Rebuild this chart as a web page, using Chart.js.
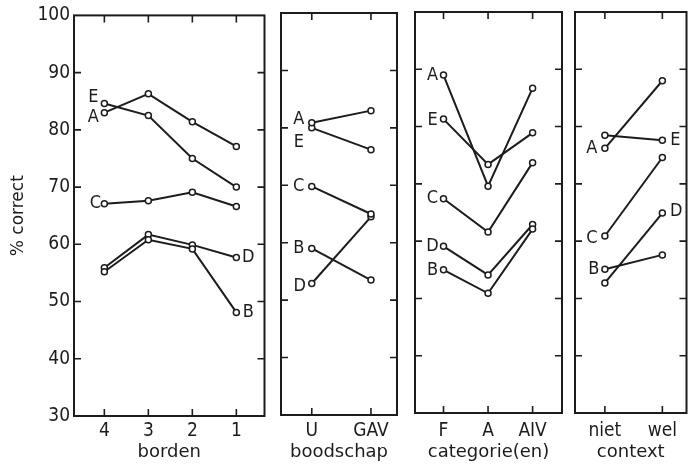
<!DOCTYPE html>
<html>
<head>
<meta charset="utf-8">
<script src="https://cdn.jsdelivr.net/npm/chart.js@4.4.1/dist/chart.umd.min.js"></script>
<style>
html, body { margin: 0; padding: 0; background: #fff; overflow: hidden; }
#wrap { position: relative; width: 692px; height: 464px; }
.panel { position: absolute; top: 0; height: 464px; }
</style>
</head>
<body>
<div id="wrap">
  <div class="panel"><canvas id="c1"></canvas></div>
  <div class="panel"><canvas id="c2"></canvas></div>
  <div class="panel"><canvas id="c3"></canvas></div>
  <div class="panel"><canvas id="c4"></canvas></div>
</div>
<script>
const seriesNames = ['A', 'B', 'C', 'D', 'E'];

// borden
const bordenTicks = ['4', '3', '2', '1'];
const bordenA = [83.0, 86.3, 81.4, 77.1];
const bordenB = [55.2, 60.8, 59.2, 48.1];
const bordenC = [67.1, 67.6, 69.1, 66.6];
const bordenD = [55.9, 61.7, 59.9, 57.7];
const bordenE = [84.6, 82.5, 75.0, 70.0];

// boodschap
const boodschapTicks = ['U', 'GAV'];
const boodschapA = [80.9, 83.0];
const boodschapB = [59.0, 53.5];
const boodschapC = [69.8, 65.0];
const boodschapD = [52.9, 64.5];
const boodschapE = [80.0, 76.2];

// categorie(en)
const categorieTicks = ['F', 'A', 'AIV'];
const categorieA = [89.0, 69.6, 86.7];
const categorieB = [55.0, 50.9, 62.1];
const categorieC = [67.4, 61.6, 73.7];
const categorieD = [59.1, 54.1, 62.9];
const categorieE = [81.3, 73.4, 78.9];

// context
const contextTicks = ['niet', 'wel'];
const contextA = [76.2, 88.0];
const contextB = [55.1, 57.6];
const contextC = [60.9, 74.6];
const contextD = [52.7, 64.9];
const contextE = [78.5, 77.6];

const yTicks = [30, 40, 50, 60, 70, 80, 90, 100];

const INK = '#1c1c1c';
const FONT = 'DejaVu Sans Condensed, DejaVu Sans, sans-serif';

// layout of each panel (pixels) and where the letter tags sit: [pointIndex, dx, dy]
const panels = [
    { id: 'c1', title: 'borden', ticks: bordenTicks,
      series: [bordenA, bordenB, bordenC, bordenD, bordenE],
      x: 0, width: 270, box: { left: 74, right: 265, top: 15, bottom: 416 },
      xmin: -0.69, xmax: 3.64, yAxis: true,
      tags: { A: [0, -11, 5], B: [3, 12, 0], C: [0, -9, 0], D: [3, 12, 0], E: [0, -11, -6] } },
    { id: 'c2', title: 'boodschap', ticks: boodschapTicks,
      series: [boodschapA, boodschapB, boodschapC, boodschapD, boodschapE],
      x: 270, width: 135, box: { left: 281, right: 397, top: 13, bottom: 415 },
      xmin: -0.52, xmax: 1.44, yAxis: false,
      tags: { A: [0, -13, -3], B: [0, -13, 0], C: [0, -13, 0], D: [0, -12, 3], E: [0, -13, 14] } },
    { id: 'c3', title: 'categorie(en)', ticks: categorieTicks,
      series: [categorieA, categorieB, categorieC, categorieD, categorieE],
      x: 405, width: 163, box: { left: 415, right: 562, top: 12, bottom: 413 },
      xmin: -0.64, xmax: 2.66, yAxis: false,
      tags: { A: [0, -11, 0], B: [0, -11, 1], C: [0, -11, 0], D: [0, -11, 0], E: [0, -11, 1] } },
    { id: 'c4', title: 'context', ticks: contextTicks,
      series: [contextA, contextB, contextC, contextD, contextE],
      x: 568, width: 124, box: { left: 575, right: 689, top: 12, bottom: 413 },
      xmin: -0.52, xmax: 1.42, yAxis: false,
      tags: { A: [0, -13, 0], B: [0, -11, 0], C: [0, -13, 2], D: [1, 14, -2], E: [1, 13, 0] } }
];

// frame with inward tick marks, like the original figure
const panelFrame = {
    id: 'panelFrame',
    beforeDatasetsDraw(chart) {
        const { ctx, chartArea: a, scales } = chart;
        const len = 7;
        ctx.save();
        ctx.strokeStyle = INK;
        ctx.lineWidth = 2;
        ctx.strokeRect(a.left, a.top, a.right - a.left, a.bottom - a.top);
        ctx.lineWidth = 1.6;
        ctx.beginPath();
        scales.y.ticks.forEach(t => {
            if (t.value <= 30 || t.value >= 100) return;
            const py = scales.y.getPixelForValue(t.value);
            ctx.moveTo(a.left, py); ctx.lineTo(a.left + len, py);
            ctx.moveTo(a.right - len, py); ctx.lineTo(a.right, py);
        });
        scales.x.ticks.forEach(t => {
            const px = scales.x.getPixelForValue(t.value);
            ctx.moveTo(px, a.top); ctx.lineTo(px, a.top + len);
            ctx.moveTo(px, a.bottom - len); ctx.lineTo(px, a.bottom);
        });
        ctx.stroke();
        ctx.restore();
    },
    afterDatasetsDraw(chart, args, opts) {
        const ctx = chart.ctx;
        ctx.save();
        ctx.fillStyle = INK;
        ctx.font = '18px ' + FONT;
        ctx.textAlign = 'center';
        ctx.textBaseline = 'middle';
        chart.data.datasets.forEach((ds, i) => {
            const tag = opts.tags[ds.label];
            if (!tag) return;
            const pt = chart.getDatasetMeta(i).data[tag[0]];
            ctx.fillText(ds.label, pt.x + tag[1], pt.y + tag[2]);
        });
        ctx.restore();
    }
};

function makeChart(p) {
    const canvas = document.getElementById(p.id);
    canvas.width = p.width;
    canvas.height = 464;
    canvas.parentNode.style.left = p.x + 'px';
    canvas.parentNode.style.width = p.width + 'px';

    const yWidth = p.yAxis ? p.box.left - p.x : 0;
    const xHeight = 464 - p.box.bottom;

    const datasets = p.series.map((vals, i) => ({
        label: seriesNames[i],
        data: vals.map((v, j) => ({ x: j, y: v })),
        borderColor: INK,
        borderWidth: 2,
        pointRadius: 3,
        pointBorderWidth: 1.5,
        pointBackgroundColor: '#fff',
        pointBorderColor: INK,
        tension: 0
    }));

    return new Chart(canvas, {
        type: 'line',
        data: { datasets: datasets },
        options: {
            responsive: false,
            animation: false,
            layout: {
                padding: {
                    left: p.box.left - p.x - yWidth,
                    right: p.x + p.width - p.box.right,
                    top: p.box.top,
                    bottom: 0
                }
            },
            plugins: {
                legend: { display: false },
                tooltip: { enabled: false },
                panelFrame: { tags: p.tags }
            },
            scales: {
                x: {
                    type: 'linear',
                    min: p.xmin,
                    max: p.xmax,
                    afterBuildTicks: s => { s.ticks = p.ticks.map((_, i) => ({ value: i })); },
                    afterFit: s => { s.height = xHeight; },
                    grid: { display: false, drawTicks: false },
                    border: { display: false },
                    ticks: {
                        color: INK,
                        font: { family: FONT, size: 19 },
                        padding: 4 + (416 - p.box.bottom),
                        maxRotation: 0,
                        callback: v => p.ticks[v]
                    },
                    title: {
                        display: true,
                        text: p.title,
                        color: INK,
                        font: { family: 'DejaVu Sans, sans-serif', size: 18 },
                        padding: { top: 0, bottom: 1 }
                    }
                },
                y: {
                    display: p.yAxis,
                    min: 30,
                    max: 100,
                    afterBuildTicks: s => { s.ticks = yTicks.map(v => ({ value: v })); },
                    afterFit: s => { if (p.yAxis) s.width = yWidth; },
                    grid: { display: false, drawTicks: false },
                    border: { display: false },
                    ticks: {
                        color: INK,
                        font: { family: FONT, size: 19 },
                        padding: 4
                    },
                    title: {
                        display: true,
                        text: '% correct',
                        color: INK,
                        font: { family: 'DejaVu Sans, sans-serif', size: 17 },
                        padding: { top: 8, bottom: 0 }
                    }
                }
            }
        },
        plugins: [panelFrame]
    });
}

panels.forEach(makeChart);
</script>
</body>
</html>
